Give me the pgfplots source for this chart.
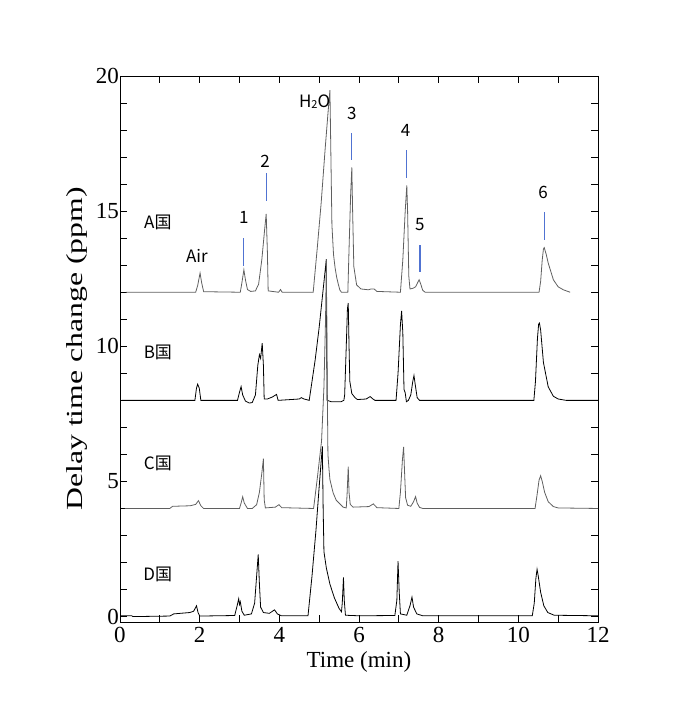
\documentclass[border=0pt]{standalone}
\usepackage{fontspec}
\setmainfont{Liberation Serif}
\newfontfamily\jp{Noto Sans CJK JP}
\usepackage{pgfplots}
\pgfplotsset{compat=1.18}
\definecolor{trgray}{RGB}{95,95,95}
\definecolor{mkblue}{RGB}{80,115,210}
\begin{document}
\begin{tikzpicture}
\path[use as bounding box] (0,0) rectangle (700pt,707pt);
\begin{axis}[
  at={(120pt,85pt)}, anchor=south west, scale only axis,
  width=478pt, height=546pt,
  xmin=0, xmax=12, ymin=-0.2, ymax=20,
  xtick={0,2,...,12}, ytick={0,5,...,20},
  minor x tick num=1, minor y tick num=4,
  major tick length=7pt, minor tick length=7pt,
  tick style={black, line width=0.7pt},
  axis line style={line width=0.8pt},
  tick label style={font=\fontsize{23}{26}\selectfont},
  /pgf/number format/assume math mode=true,
  yticklabel style={inner xsep=1pt},
  xticklabel style={inner ysep=5pt},
  xlabel={Time (min)}, ylabel={\scalebox{1.38}[1]{Delay time change (ppm)}},
  label style={font=\fontsize{23}{26}\selectfont},
  xlabel style={yshift=0pt},
  ylabel style={yshift=4pt},
  clip=false,
]
% Trace A (baseline 12)
\addplot[trgray, line width=0.8pt, no marks] coordinates {
(0.15,12) (1.90,12) (1.95,12.25) (2.01,12.71) (2.05,12.35) (2.10,12.02)
(3.02,12.0) (3.06,12.35) (3.11,12.83) (3.15,12.45) (3.20,12.1) (3.28,12.03) (3.40,12.05)
(3.48,12.3) (3.56,13.2) (3.63,14.3) (3.67,14.9) (3.70,13.5) (3.72,12.05)
(3.98,12.0) (4.03,12.1) (4.07,12.0)
(4.85,12.0) (4.95,13.6) (5.05,15.3) (5.15,17.3) (5.22,18.6) (5.27,19.48)
(5.29,17.5) (5.32,14.5) (5.36,13.4) (5.40,12.9) (5.44,12.55) (5.48,12.3) (5.52,12.08) (5.56,12.0)
(5.72,12.0) (5.75,13.6) (5.79,15.6) (5.82,16.62) (5.84,15.0) (5.87,12.95) (5.94,12.27) (6.05,12.12)
(6.24,12.09) (6.30,12.12) (6.38,12.12) (6.45,12.03) (7.04,12.0)
(7.10,13.2) (7.16,15.0) (7.20,15.95) (7.22,15.0) (7.25,12.6) (7.28,12.12) (7.36,12.15)
(7.42,12.2) (7.48,12.38) (7.51,12.46) (7.55,12.3) (7.60,12.07) (7.66,12.0)
(10.52,12.0) (10.56,12.4) (10.60,13.2) (10.63,13.6) (10.65,13.65) (10.70,13.4) (10.75,13.08)
(10.88,12.46) (11.00,12.2) (11.13,12.09) (11.30,12.0)
};
% Trace B (baseline 8)
\addplot[black, line width=0.8pt, no marks] coordinates {
(0.04,8) (1.88,8) (1.92,8.45) (1.95,8.6) (1.99,8.45) (2.03,8.0)
(2.95,8.0) (3.00,8.3) (3.04,8.51) (3.08,8.2) (3.15,7.97) (3.25,7.9) (3.32,7.92)
(3.40,8.2) (3.46,9.3) (3.50,9.69) (3.53,9.55) (3.57,10.12) (3.60,9.3) (3.62,8.05)
(3.70,8.05) (3.82,8.12) (3.93,8.22) (3.97,8.0) (4.50,8.05) (4.55,8.1) (4.62,8.05)
(4.75,8.0) (4.90,9.5) (5.00,10.7) (5.10,12.1) (5.18,13.22) (5.19,10.0) (5.20,8.0)
(5.30,7.95) (5.55,7.95) (5.62,8.0)
(5.64,8.2) (5.68,10.0) (5.71,11.4) (5.73,11.6) (5.75,10.0) (5.77,8.7) (5.82,8.25) (5.90,8.1) (5.96,8.03)
(6.18,8.05) (6.28,8.14) (6.35,8.05) (6.40,8.0)
(6.93,8.0) (6.98,9.0) (7.04,10.8) (7.07,11.31) (7.10,10.5) (7.13,8.4) (7.16,8.28) (7.19,7.95)
(7.24,8.0) (7.30,8.2) (7.35,8.7) (7.38,8.92) (7.41,8.6) (7.46,8.1) (7.52,8.0)
(10.39,8.0) (10.43,8.7) (10.48,10.3) (10.51,10.82) (10.53,10.86) (10.56,10.6) (10.63,9.4)
(10.75,8.5) (10.88,8.15) (11.00,8.05) (11.20,8.0) (12,8.0)
};
% Trace C (baseline 4)
\addplot[trgray, line width=0.8pt, no marks] coordinates {
(0.12,4) (1.25,4.0) (1.32,4.08) (1.76,4.1) (1.90,4.15) (1.97,4.29) (2.03,4.1) (2.10,4.0)
(3.00,4.0) (3.04,4.2) (3.08,4.43) (3.12,4.2) (3.20,4.0) (3.32,4.0) (3.43,4.14)
(3.50,4.6) (3.56,5.3) (3.60,5.84) (3.62,4.32) (3.65,4.02)
(3.90,4.05) (3.99,4.14) (4.06,4.03) (4.86,4.0)
(4.96,5.2) (5.06,6.5) (5.12,8.5) (5.16,11.0) (5.18,13.2) (5.20,9.0) (5.22,6.0)
(5.25,5.4) (5.27,5.07) (5.35,4.58) (5.43,4.3) (5.52,4.17) (5.60,4.05) (5.68,4.02)
(5.70,4.5) (5.73,5.55) (5.75,4.6) (5.78,4.15) (5.85,4.05)
(6.25,4.07) (6.36,4.17) (6.45,4.03) (7.00,4.0)
(7.04,4.6) (7.09,5.8) (7.12,6.28) (7.14,5.5) (7.17,4.4) (7.22,4.12) (7.30,4.08)
(7.37,4.25) (7.42,4.44) (7.46,4.2) (7.52,4.04) (7.60,4.0)
(10.42,4.0) (10.47,4.5) (10.52,5.05) (10.56,5.21) (10.60,5.0) (10.66,4.6) (10.75,4.25)
(10.88,4.07) (11.00,4.02) (12,4.0)
};
% Trace D (baseline 0)
\addplot[black, line width=0.8pt, no marks] coordinates {
(0,0.03) (0.30,0.03) (0.32,0.0) (1.25,0.02) (1.35,0.1) (1.75,0.15) (1.85,0.2)
(1.92,0.4) (1.96,0.15) (2.00,0.02) (2.88,0.04)
(2.94,0.4) (2.98,0.66) (3.00,0.45) (3.02,0.55) (3.06,0.2) (3.12,0.05) (3.30,0.1)
(3.38,0.5) (3.43,1.5) (3.47,2.3) (3.50,1.2) (3.53,0.35) (3.60,0.15) (3.75,0.12)
(3.88,0.25) (3.95,0.1) (4.05,0.03) (4.72,0.03)
(4.82,1.5) (4.92,3.2) (5.00,4.8) (5.08,6.3) (5.10,4.0) (5.12,2.4) (5.18,1.8)
(5.27,1.2) (5.38,0.7) (5.50,0.3) (5.56,0.18) (5.58,0.5) (5.61,1.45) (5.63,0.6) (5.66,0.05)
(6.00,0.03) (6.90,0.04) (6.95,0.6) (6.98,2.05) (7.01,0.9) (7.04,0.1) (7.20,0.05)
(7.28,0.4) (7.33,0.72) (7.37,0.35) (7.45,0.1) (7.60,0.03)
(10.35,0.03) (10.40,0.5) (10.44,1.4) (10.47,1.75) (10.50,1.5) (10.56,0.9) (10.64,0.4)
(10.74,0.15) (10.90,0.05) (12,0.03)
};
% blue markers
\addplot[mkblue, line width=1.2pt, no marks] coordinates {(3.11,12.98) (3.11,14.01)};
\addplot[mkblue, line width=1.2pt, no marks] coordinates {(3.67,15.38) (3.67,16.41)};
\addplot[mkblue, line width=1.2pt, no marks] coordinates {(5.82,16.9) (5.82,17.89)};
\addplot[mkblue, line width=1.2pt, no marks] coordinates {(7.20,16.23) (7.20,17.26)};
\addplot[mkblue, line width=1.2pt, no marks] coordinates {(7.53,12.75) (7.53,13.75)};
\addplot[mkblue, line width=1.2pt, no marks] coordinates {(10.65,13.94) (10.65,14.97)};
% labels
\begin{scope}[every node/.style={font=\jp\fontsize{17}{20}\selectfont, inner sep=0pt}]
\node at (axis cs:3.11,14.75) {1};
\node at (axis cs:3.64,16.85) {2};
\node at (axis cs:5.82,18.6) {3};
\node at (axis cs:7.17,18.0) {4};
\node at (axis cs:7.53,14.5) {5};
\node at (axis cs:10.62,15.7) {6};
\node at (axis cs:1.93,13.35) {Air};
\node[anchor=east] at (axis cs:5.28,19.05) {H\raisebox{-0.5pt}{\fontsize{11}{12}\selectfont 2}O};
\node at (axis cs:0.95,14.6) {A国};
\node at (axis cs:0.95,9.76) {B国};
\node at (axis cs:0.95,5.66) {C国};
\node at (axis cs:0.95,1.55) {D国};
\end{scope}
\end{axis}
\end{tikzpicture}
\end{document}
